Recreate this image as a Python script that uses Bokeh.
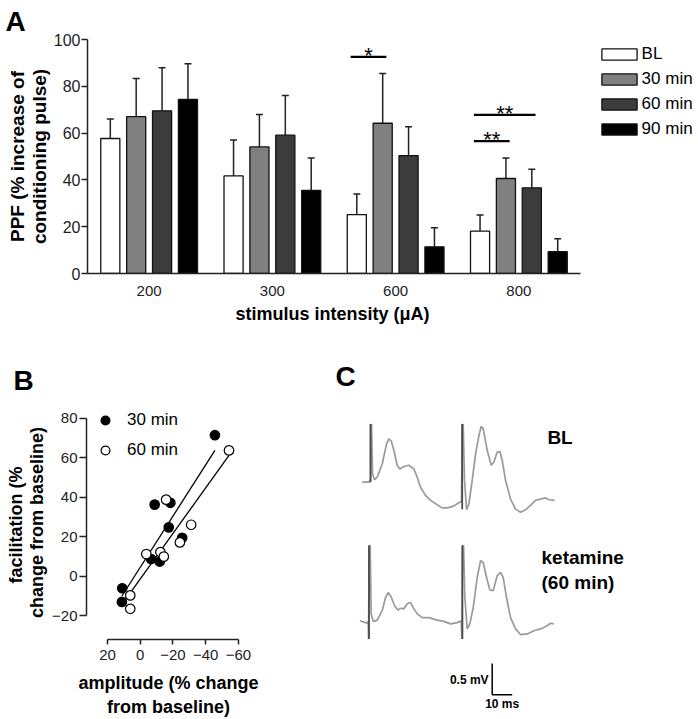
import numpy as np
from bokeh.plotting import figure
from bokeh.models import (Range1d, FixedTicker, Legend, LegendItem, Label, Whisker,
                          TeeHead, ColumnDataSource, Title)
from bokeh.layouts import column, row
from bokeh.embed import file_html
from bokeh.resources import INLINE

FONT = "Liberation Sans"

# ---------------- Panel A data ----------------
intensities = ["200", "300", "600", "800"]
series_names = ["BL", "30 min", "60 min", "90 min"]
ppf_bl = [57.7, 41.7, 25.2, 18.1]
ppf_30 = [67.0, 54.1, 64.2, 40.6]
ppf_60 = [69.5, 59.1, 50.4, 36.6]
ppf_90 = [74.4, 35.5, 11.4, 9.3]
sem_bl = [8.3, 15.4, 8.8, 6.9]
sem_30 = [16.3, 13.8, 21.3, 8.8]
sem_60 = [18.4, 17.0, 12.3, 8.0]
sem_90 = [15.2, 13.9, 8.1, 5.5]
series_colors = ["#ffffff", "#808080", "#3c3c3c", "#000000"]
# significance: (group index, series a, series b, level, label)
sig_group = [2, 3, 3]
sig_a = [0, 0, 0]
sig_b = [1, 1, 2]
sig_level = [92.6, 56.6, 67.8]
sig_label = ["*", "**", "**"]

# ---------------- Panel B data ----------------
amp_30 = [-45.6, -8.8, -18.4, -17.4, -25.6, -6.6, -11.9, 11.0, 11.2]
fac_30 = [71.4, 36.3, 37.2, 24.8, 19.5, 8.8, 7.5, -6.0, -12.9]
amp_60 = [-54.2, -15.8, -31.1, -24.2, -3.7, -12.3, -14.4, 6.1, 6.1]
fac_60 = [63.7, 38.8, 26.1, 17.2, 11.3, 12.3, 10.0, -9.6, -16.4]

# ---------------- Panel C data (ms, mV) ----------------
bl_t = [0, 3.33, 3.83, 4.17, 4.17, 4.67, 5.17, 6.17, 7.5, 10, 12.17, 13.33, 14.5, 15.83,
        17.5, 18.83, 20.83, 23.33, 25.83, 27.5, 29.17, 31.67, 34.17, 37.5, 40, 42.5, 45,
        46.67, 48.83, 49.67, 50, 50.5, 51.17, 52.17, 53.33, 55, 56.67, 58.33, 59.5, 60.5,
        62.5, 64.5, 65.83, 67.5, 68.83, 70, 71.67, 74.17, 76.67, 79.17, 81.67, 84.17,
        86.67, 89.17, 91.67, 93.33, 96.17]
bl_v = [0, 0, 0.027, 0.027, 0.92, 0.92, 0.13, 0.04, 0.08, 0.29, 0.61, 0.69, 0.66, 0.51,
        0.27, 0.21, 0.25, 0.27, 0.21, 0.08, -0.08, -0.21, -0.29, -0.36, -0.41, -0.41, -0.39,
        -0.36, -0.32, -0.30, 0.92, 0.92, 0.03, -0.44, -0.35, 0.03, 0.45, 0.74, 0.89, 0.85,
        0.51, 0.27, 0.32, 0.48, 0.49, 0.35, 0.03, -0.27, -0.43, -0.48, -0.44, -0.37,
        -0.29, -0.27, -0.25, -0.28, -0.29]
ket_t = [-1.17, 1.67, 2.5, 3.0, 3.17, 3.5, 4.0, 4.5, 5.5, 7.5, 10, 11.67, 13, 14.5, 16.17,
         17.83, 19.17, 20.83, 22.5, 24.17, 25.5, 27.5, 30, 33.33, 37.5, 40.83, 44.17, 47.5,
         49.5, 49.83, 50.17, 50.67, 51.33, 52.5, 53.83, 55.5, 57.5, 59.17, 60.5, 62.17,
         63.83, 65.5, 67.5, 69.17, 70.5, 72.17, 74.17, 76.67, 79.17, 82.5, 85.83, 89.17,
         92.5, 94.17, 95.83]
ket_v = [0.01, -0.02, -0.03, 0, -0.28, 1.21, 1.21, 0.12, 0, 0.02, 0.17, 0.38, 0.46, 0.39,
         0.25, 0.18, 0.21, 0.2, 0.28, 0.30, 0.22, 0.12, 0.06, 0.06, 0.02, 0, -0.04, -0.02,
         0.01, -0.28, 1.21, 1.21, 0.38, -0.12, -0.04, 0.22, 0.70, 0.97, 0.94, 0.70, 0.50,
         0.49, 0.73, 0.78, 0.70, 0.38, 0.06, -0.12, -0.21, -0.20, -0.15, -0.12, -0.07,
         -0.03, -0.04]
bl_art_t = [4.17, 50.0]
bl_art_top = [0.93, 0.93]
bl_art_bot = [0.0, -0.43]
ket_art_t = [3.4, 50.1]
ket_art_top = [1.21, 1.21]
ket_art_bot = [-0.28, -0.28]
scale_ms = 10
scale_mv = 0.5


def no_align(p):
    try:
        p.frame_align = False
    except Exception:
        pass


def style_axis(ax, tick_size, label_size, line_height):
    ax.major_tick_in = 0
    ax.minor_tick_out = 0
    ax.minor_tick_in = 0
    ax.axis_line_width = 1.5
    ax.major_tick_line_width = 1.5
    ax.axis_line_color = "#222222"
    ax.major_tick_line_color = "#222222"
    ax.major_label_text_font = FONT
    ax.major_label_text_font_size = tick_size
    ax.major_label_text_color = "#222222"
    ax.axis_label_text_font = FONT
    ax.axis_label_text_font_style = "bold"
    ax.axis_label_text_font_size = label_size
    ax.axis_label_text_color = "black"
    ax.axis_label_text_line_height = line_height


def panel_title(p, letter, offset, standoff):
    p.title.text = letter
    p.title.align = "left"
    p.title.offset = offset
    p.title.standoff = standoff
    p.title.text_font = FONT
    p.title.text_font_size = "28px"
    p.title.text_font_style = "bold"
    p.title.text_color = "black"


# =============== Panel A ===============
A_PX = 123.25  # pixels per group
A_LEFT = 87
pA = figure(width=698, height=340,
            x_range=Range1d(-0.5, -0.5 + (698 - A_LEFT) / A_PX), y_range=Range1d(0, 100),
            output_backend="svg", toolbar_location=None,
            min_border_left=A_LEFT, min_border_right=0, min_border_top=39, min_border_bottom=67)
no_align(pA)
pA.outline_line_color = None
pA.grid.visible = False

offsets = [-0.315, -0.105, 0.105, 0.315]
bar_w = 0.155
means = [ppf_bl, ppf_30, ppf_60, ppf_90]
sems = [sem_bl, sem_30, sem_60, sem_90]
gx = np.arange(len(intensities))
items = []
for k, name in enumerate(series_names):
    xs = gx + offsets[k]
    src = ColumnDataSource(dict(x=xs, top=means[k], upper=np.array(means[k]) + np.array(sems[k])))
    pA.add_layout(Whisker(base="x", lower="top", upper="upper", source=src,
                          line_width=1.5, line_color="#222222", lower_head=None,
                          upper_head=TeeHead(size=7, line_width=1.5, line_color="#222222")))
    r = pA.vbar(x="x", top="top", width=bar_w, source=src, fill_color=series_colors[k],
                line_color="#111111", line_width=1.3)
    items.append(LegendItem(label=name, renderers=[r]))

for g, a, b, lev, lab in zip(sig_group, sig_a, sig_b, sig_level, sig_label):
    x0 = g + offsets[a] - 0.05
    x1 = g + offsets[b] + 0.03
    pA.segment(x0=[x0], y0=[lev], x1=[x1], y1=[lev], line_color="black", line_width=2.2)
    pA.add_layout(Label(x=(x0 + x1) / 2, y=lev + 0.5, text=lab, text_align="center",
                        text_baseline="alphabetic", text_font=FONT, text_font_size="22px",
                        text_color="black"))

legA = Legend(items=items, location=(509.6, 134), glyph_width=44, glyph_height=14,
              label_text_font=FONT, label_text_font_size="17px", label_text_color="black",
              label_standoff=1, label_height=20, spacing=5, padding=0, margin=0,
              border_line_color=None, background_fill_alpha=0)
pA.add_layout(legA)

ya = pA.yaxis[0]
ya.ticker = FixedTicker(ticks=[0, 20, 40, 60, 80, 100])
ya.axis_label = "PPF (% increase of\nconditioning pulse)"
ya.major_tick_out = 6
ya.major_label_standoff = 1
ya.axis_label_standoff = 1
style_axis(ya, "16px", "19px", 1.05)
xa = pA.xaxis[0]
xa.ticker = FixedTicker(ticks=list(gx))
xa.bounds = (-0.5, len(intensities) - 0.5)
xa.major_label_overrides = {int(i): lab for i, lab in zip(gx, intensities)}
xa.major_tick_out = 0
xa.major_label_standoff = 12
style_axis(xa, "15px", "18px", 1.2)
pA.add_layout(Title(text="stimulus intensity (\u03bcA)", align="left", offset=148, standoff=6,
                    text_font=FONT, text_font_size="18px", text_font_style="bold",
                    text_color="black"), "below")

panel_title(pA, "A", -82, 6)

# =============== Panel B ===============
pB = figure(width=290, height=379, x_range=Range1d(32.82, -67.33), y_range=Range1d(-31.9, 86.4),
            output_backend="svg", toolbar_location=None,
            min_border_left=86, min_border_right=40, min_border_top=65, min_border_bottom=75)
no_align(pB)
pB.outline_line_color = None
pB.grid.visible = False

for ax_x, ax_y in [(amp_30, fac_30), (amp_60, fac_60)]:
    slope, icpt = np.polyfit(ax_x, ax_y, 1)
    xs = np.array([min(ax_x), max(ax_x)])
    pB.line(xs, slope * xs + icpt, line_color="black", line_width=1.3)

r30 = pB.scatter(amp_30, fac_30, size=9.5, fill_color="black", line_color="black", line_width=1.2)
r60 = pB.scatter(amp_60, fac_60, size=9.5, fill_color="white", line_color="black", line_width=1.2)

legB = Legend(items=[LegendItem(label="30 min", renderers=[r30]),
                     LegendItem(label="60 min", renderers=[r60])],
              location=(8, 178), glyph_width=22, glyph_height=22, label_standoff=11,
              label_text_font=FONT, label_text_font_size="17px", label_text_color="black",
              label_height=22, spacing=8, padding=0, margin=0, border_line_color=None,
              background_fill_alpha=0)
pB.add_layout(legB)

xb = pB.xaxis[0]
yb = pB.yaxis[0]
xb.ticker = FixedTicker(ticks=[20, 0, -20, -40, -60])
yb.ticker = FixedTicker(ticks=[-20, 0, 20, 40, 60, 80])
xb.bounds = (-60, 20)
yb.bounds = (-20, 80)
xb.axis_label = "amplitude (% change\nfrom baseline)"
yb.axis_label = "facilitation  (%\nchange from baseline)"
xb.major_tick_out = 5
yb.major_tick_out = 7
xb.major_label_standoff = 5
yb.major_label_standoff = 2
xb.axis_label_standoff = 10
yb.axis_label_standoff = 2
style_axis(xb, "15px", "18px", 1.2)
style_axis(yb, "15px", "18px", 1.05)

panel_title(pB, "B", -73, 20)

# =============== Panel C ===============
pC = figure(width=408, height=379, x_range=Range1d(-35.85, 168.15), y_range=Range1d(-3.785, 2.26),
            output_backend="svg", toolbar_location=None,
            x_axis_location=None, y_axis_location=None, min_border=0,
            min_border_left=0, min_border_right=0, min_border_top=0, min_border_bottom=0)
no_align(pC)
pC.outline_line_color = None
pC.grid.visible = False

ket_offset = -2.22
trace_col = "#9a9a9a"
art_col = "#4a4a4a"
pC.line(bl_t, bl_v, line_color=trace_col, line_width=1.7)
pC.line(ket_t, np.array(ket_v) + ket_offset, line_color=trace_col, line_width=1.7)
pC.segment(x0=bl_art_t, y0=bl_art_bot, x1=bl_art_t, y1=bl_art_top, line_color=art_col, line_width=1.8)
pC.segment(x0=ket_art_t, y0=np.array(ket_art_bot) + ket_offset, x1=ket_art_t,
           y1=np.array(ket_art_top) + ket_offset, line_color=art_col, line_width=1.8)

# scale bar
sb_t0, sb_v0 = 65.0, -3.39
pC.line([sb_t0, sb_t0, sb_t0 + scale_ms], [sb_v0 + scale_mv, sb_v0, sb_v0],
        line_color="black", line_width=1.5)
pC.add_layout(Label(x=sb_t0 - 1.8, y=sb_v0 + scale_mv / 2 - 0.02, text=f"{scale_mv} mV",
                    text_align="right", text_baseline="middle", text_font=FONT,
                    text_font_size="12px", text_font_style="bold", text_color="black"))
pC.add_layout(Label(x=sb_t0 + scale_ms / 2, y=sb_v0 - 0.14, text=f"{scale_ms} ms",
                    text_align="center", text_baseline="middle", text_font=FONT,
                    text_font_size="12px", text_font_style="bold", text_color="black"))

for txt, tx, ty in [("BL", 92.6, 0.713), ("ketamine", 89.65, -1.20), ("(60 min)", 89.65, -1.60)]:
    pC.add_layout(Label(x=tx, y=ty, text=txt, text_align="left", text_baseline="middle",
                        text_font=FONT, text_font_size="19px", text_font_style="bold",
                        text_color="black"))

pC.add_layout(Label(x=-13.35, y=1.94, text="C", text_font=FONT, text_font_size="28px",
                    text_font_style="bold", text_baseline="top", text_align="left",
                    text_color="black"))

layout = column(pA, row(pB, pC))
open("out.html", "w").write(file_html(layout, INLINE))
